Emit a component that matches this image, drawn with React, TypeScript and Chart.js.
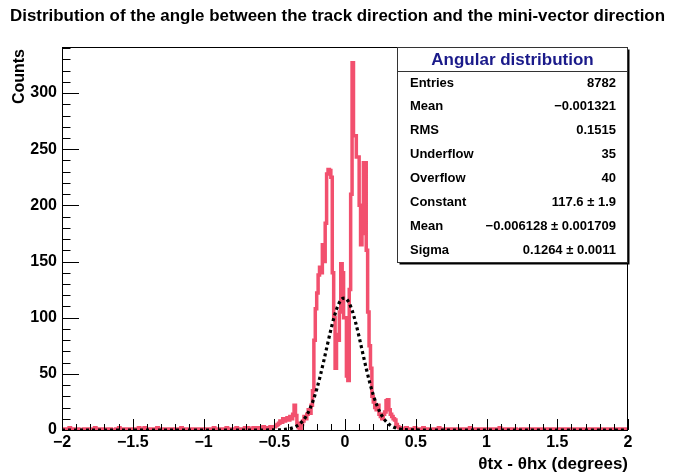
import React, { useEffect, useRef } from "react";
import { Chart, registerables } from "chart.js";

Chart.register(...registerables);

const TITLE = "Distribution of the angle between the track direction and the mini-vector direction";
const X_TITLE = "\u03b8tx - \u03b8hx (degrees)";
const Y_TITLE = "Counts";
const STATS_TITLE = "Angular distribution";

const X_MIN = -2;
const X_MAX = 2;
const BIN_WIDTH = 0.01;
const Y_MAX = 341;

// bins -2.00 .. -0.51
const leftTailCounts = [
  1,0,0,1,0,2,0,0,1,0, 0,1,0,0,0,1,0,1,0,0, 1,0,0,2,0,0,1,0,0,1, 0,0,1,0,1,0,0,0,1,0, 2,0,1,0,0,1,0,0,1,0,
  0,1,0,1,2,1,0,1,2,1, 1,0,1,0,0,1,0,2,0,1, 0,0,1,0,1,0,1,0,0,1, 0,1,0,0,2,0,1,0,1,0, 1,0,0,1,0,1,0,1,1,0,
  1,0,1,0,1,1,0,2,0,1, 0,1,1,0,1,0,2,1,0,1, 1,0,1,2,0,1,1,0,1,2, 1,2,0,1,1,2,1,0,2,1, 2,1,3,1,2,2,1,3,2,3,
];
// bins -0.50 .. 0.49
const coreCounts = [
  3,4,5,6,8,7,10,8,9,11,
  9,12,10,14,22,13,6,2,1,5,
  8,12,10,14,18,15,22,35,80,108,
  122,138,145,140,165,150,184,228,232,231,
  225,140,100,55,85,80,105,148,140,100,
  100,48,44,125,210,327,262,262,243,243,
  200,165,175,238,238,160,105,75,55,30,
  25,20,18,22,14,12,10,14,16,26,
  27,18,14,12,10,9,5,3,2,2,
  1,1,0,2,1,0,1,1,0,2,
];
// bins 0.50 .. 1.99
const rightTailCounts = [
  1,0,1,1,0,2,0,1,0,1, 0,1,0,0,1,0,2,0,1,0, 0,1,0,1,0,0,1,0,1,0, 1,0,0,1,0,1,0,0,2,0, 0,1,0,0,1,0,1,0,0,1,
  0,1,0,0,1,0,0,1,0,2, 0,0,1,0,0,1,0,0,1,0, 1,0,0,0,1,0,1,0,0,1, 0,0,1,0,0,1,0,1,0,0, 1,0,0,1,0,0,1,0,1,0,
  0,1,0,0,1,0,1,0,0,1, 0,0,1,0,1,0,0,1,0,0, 1,0,1,0,0,1,0,0,1,0, 0,1,0,0,1,0,0,1,0,1, 0,0,1,0,0,1,0,1,0,0,
];

// gaussian fit curve
const fitX = [
  -2, -0.6, -0.5, -0.475, -0.45, -0.425, -0.4, -0.375, -0.35, -0.325, -0.3, -0.275, -0.25, -0.225,
  -0.2, -0.175, -0.15, -0.125, -0.1, -0.075, -0.05, -0.025, 0, 0.025, 0.05, 0.075, 0.1, 0.125,
  0.15, 0.175, 0.2, 0.225, 0.25, 0.275, 0.3, 0.325, 0.35, 0.375, 0.4, 0.425, 0.45, 0.475, 0.5, 0.6, 2,
];
const fitY = [
  0, 0.01, 0.06, 0.12, 0.25, 0.49, 0.92, 1.66, 2.91, 4.88, 7.88, 12.24, 18.28, 26.26,
  36.27, 48.17, 61.53, 75.57, 89.25, 101.37, 110.73, 116.3, 117.46, 114.09, 106.56, 95.72, 82.67, 68.66,
  54.84, 42.12, 31.11, 22.1, 15.09, 9.91, 6.26, 3.8, 2.22, 1.25, 0.67, 0.35, 0.18, 0.08, 0.04, 0.01, 0,
];

const xTickValues = [-2, -1.5, -1, -0.5, 0, 0.5, 1, 1.5, 2];
const xTickLabels = ["\u22122", "\u22121.5", "\u22121", "\u22120.5", "0", "0.5", "1", "1.5", "2"];
const yTickValues = [0, 50, 100, 150, 200, 250, 300];
const yTickLabels = ["0", "50", "100", "150", "200", "250", "300"];

const statsLabels = ["Entries", "Mean", "RMS", "Underflow", "Overflow", "Constant", "Mean", "Sigma"];
const statsValues = [
  "8782",
  "\u22120.001321",
  "0.1515",
  "35",
  "40",
  "117.6 \u00b1 1.9",
  "\u22120.006128 \u00b1 0.001709",
  "0.1264 \u00b1 0.0011",
];

const FONT = "'Liberation Sans', Arial, Helvetica, sans-serif";
const HIST_COLOR = "#f2506e";

function drawFitText(ctx: CanvasRenderingContext2D, text: string, x: number, y: number, width: number) {
  const w = ctx.measureText(text).width;
  const sx = width / w;
  ctx.save();
  ctx.translate(x, y);
  ctx.scale(sx, 1);
  ctx.fillText(text, 0, 0);
  ctx.restore();
}

const rootPlugin = {
  id: "rootStyle",
  afterDraw(chart: any) {
    const ctx: CanvasRenderingContext2D = chart.ctx;
    const { left, right, top, bottom } = chart.chartArea;
    const xs = chart.scales.x;
    const ys = chart.scales.y;
    ctx.save();

    // frame
    ctx.strokeStyle = "#000";
    ctx.lineWidth = 1;
    ctx.strokeRect(Math.round(left) + 0.5, Math.round(top) + 0.5, Math.round(right - left) - 1, Math.round(bottom - top));

    // x ticks (inside)
    ctx.beginPath();
    for (let i = 0; i <= 40; i++) {
      const v = X_MIN + i * 0.1;
      const px = Math.round(xs.getPixelForValue(v)) + 0.5;
      const len = i % 5 === 0 ? 11 : 6;
      ctx.moveTo(px, bottom);
      ctx.lineTo(px, bottom - len);
    }
    // y ticks (inside)
    for (let v = 0; v <= Y_MAX; v += 10) {
      const py = Math.round(ys.getPixelForValue(v)) + 0.5;
      const len = v % 50 === 0 ? 17 : 8.5;
      ctx.moveTo(left, py);
      ctx.lineTo(left + len, py);
    }
    ctx.stroke();

    // title
    ctx.fillStyle = "#000";
    ctx.font = `bold 17px ${FONT}`;
    ctx.textBaseline = "alphabetic";
    ctx.textAlign = "left";
    drawFitText(ctx, TITLE, 10, 21, 655);

    // x title
    ctx.font = `bold 17px ${FONT}`;
    ctx.textAlign = "right";
    ctx.fillText(X_TITLE, right, 469);

    // y title
    ctx.save();
    ctx.translate(24, 49);
    ctx.rotate(-Math.PI / 2);
    ctx.textAlign = "right";
    ctx.font = `bold 16px ${FONT}`;
    ctx.fillText(Y_TITLE, 0, 0);
    ctx.restore();

    // stats box
    const bx = 397.5, by = 47.5, bw = 230, bh = 215;
    ctx.fillStyle = "#000";
    ctx.fillRect(bx + 2, by + 2, bw, bh);
    ctx.fillStyle = "#fff";
    ctx.fillRect(bx, by, bw, bh);
    ctx.strokeStyle = "#333";
    ctx.strokeRect(bx, by, bw, bh);
    ctx.beginPath();
    ctx.moveTo(bx, by + 24);
    ctx.lineTo(bx + bw, by + 24);
    ctx.stroke();

    ctx.fillStyle = "#1a1a8a";
    ctx.font = `bold 17px ${FONT}`;
    ctx.textAlign = "center";
    ctx.textBaseline = "middle";
    ctx.fillText(STATS_TITLE, bx + bw / 2, by + 12.5);

    ctx.fillStyle = "#000";
    ctx.font = `bold 13px ${FONT}`;
    for (let i = 0; i < statsLabels.length; i++) {
      const ry = 83 + i * 23.9;
      ctx.textAlign = "left";
      ctx.fillText(statsLabels[i], 410, ry);
      ctx.textAlign = "right";
      ctx.fillText(statsValues[i], 616, ry);
    }
    ctx.restore();
  },
};

export default function App() {
  const canvasRef = useRef<HTMLCanvasElement | null>(null);

  useEffect(() => {
    const counts = [...leftTailCounts, ...coreCounts, ...rightTailCounts];
    const histPoints = counts.map((c, i) => ({ x: X_MIN + i * BIN_WIDTH, y: c }));
    histPoints.push({ x: X_MAX, y: counts[counts.length - 1] });
    const fitPoints = fitX.map((x, i) => ({ x, y: fitY[i] }));

    const chart = new Chart(canvasRef.current as HTMLCanvasElement, {
      type: "line",
      data: {
        datasets: [
          {
            label: "fit",
            data: fitPoints,
            borderColor: "#000",
            borderWidth: 3.2,
            borderDash: [3, 3],
            pointRadius: 0,
            cubicInterpolationMode: "monotone",
            fill: false,
          },
          {
            label: "hist",
            data: histPoints,
            borderColor: HIST_COLOR,
            borderWidth: 3.5,
            pointRadius: 0,
            stepped: "before",
            fill: false,
          },
        ],
      },
      options: {
        animation: false,
        responsive: false,
        maintainAspectRatio: false,
        layout: { padding: { top: 47, right: 51, bottom: 0, left: 0 } },
        plugins: { legend: { display: false }, tooltip: { enabled: false }, title: { display: false } },
        scales: {
          x: {
            type: "linear",
            min: X_MIN,
            max: X_MAX,
            grid: { display: false, drawTicks: false },
            border: { display: false },
            afterBuildTicks: (s: any) => {
              s.ticks = xTickValues.map((v) => ({ value: v }));
            },
            afterFit: (s: any) => {
              s.height = 46;
            },
            ticks: {
              autoSkip: false,
              maxRotation: 0,
              padding: 3,
              color: "#000",
              font: { family: FONT, size: 16, weight: "bold" },
              callback: (v: any) => xTickLabels[xTickValues.indexOf(Number(v))] ?? "",
            },
          },
          y: {
            type: "linear",
            min: 0,
            max: Y_MAX,
            grid: { display: false, drawTicks: false },
            border: { display: false },
            afterBuildTicks: (s: any) => {
              s.ticks = yTickValues.map((v) => ({ value: v }));
            },
            afterFit: (s: any) => {
              s.width = 62;
            },
            ticks: {
              autoSkip: false,
              padding: 5,
              color: "#000",
              font: { family: FONT, size: 16, weight: "bold" },
              callback: (v: any) => yTickLabels[yTickValues.indexOf(Number(v))] ?? "",
            },
          },
        },
      },
      plugins: [rootPlugin],
    } as any);
    return () => chart.destroy();
  }, []);

  return (
    <div style={{ position: "fixed", left: 0, top: 0, width: 679, height: 476, background: "#fff" }}>
      <canvas ref={canvasRef} width={679} height={476} style={{ width: 679, height: 476 }} />
    </div>
  );
}
